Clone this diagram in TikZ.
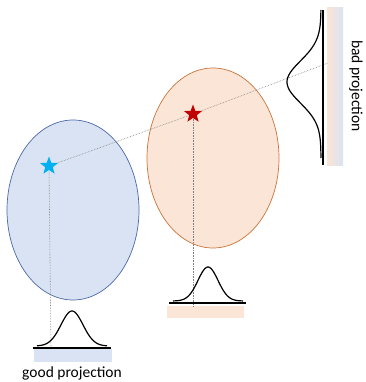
\documentclass[tikz,border=0pt]{standalone}
\usepackage{fontspec}
\setmainfont{Carlito}
\usetikzlibrary{shapes.geometric}
\definecolor{blueface}{HTML}{DAE3F3}
\definecolor{blueedge}{HTML}{4A69A8}
\definecolor{orangeface}{HTML}{FBE5D6}
\definecolor{orangeedge}{HTML}{C9743A}
\definecolor{skystar}{HTML}{00B0F0}
\definecolor{redstar}{HTML}{C00000}
\begin{document}
\begin{tikzpicture}[x=1pt,y=-1pt,
  blob/.style={ellipse,draw,line width=0.7pt,minimum width=132pt,minimum height=180pt,inner sep=0pt},
  pt/.style={star,star points=5,star point ratio=2.4,minimum size=19pt,inner sep=0pt},
  guide/.style={densely dotted,gray,line width=0.6pt},
  axis/.style={black,line width=1.3pt},
  bell/.style={black,line width=1.2pt,smooth,samples=60},
  lbl/.style={font=\fontsize{15.5}{18}\selectfont,inner sep=0pt}]
\useasboundingbox (0,0) rectangle (365,382);
        \node[blob,draw=blueedge,fill=blueface] (left) at (73,210) {};
        \node[blob,draw=orangeedge,fill=orangeface] (right) at (213,158) {};
        % projection bars
        \fill[blueface] (34,349) rectangle (112,362);
        \fill[orangeface] (167,306) rectangle (244,318);
        \shade[left color=orangeface,right color=blueface] (327,8) rectangle (343,165);
        \coordinate (bs) at (49,166);
        \coordinate (rs) at (193,114);
        \coordinate (bfoot) at (51,350);
        \coordinate (rfoot) at (193,307);
        \coordinate (far) at (328,63);
        \begin{scope}[every path/.style={guide}]
        \draw (bs) -- (rs) -- (far);
        \draw (bs) -- (bfoot);
        \draw (rs) -- (rfoot);
        \end{scope}
        \draw[axis] (33,348) -- (111,348);
        \draw[axis] (169,303) -- (246,303);
        \draw[axis] (323,10) -- (323,165);
        \draw[bell] plot[domain=-35:35] ({72+\x},{346-35*exp(-(\x*\x)/(2*11*11))});
        \draw[bell] plot[domain=-35:35] ({208+\x},{301-34*exp(-(\x*\x)/(2*10*10))});
        \draw[bell] plot[domain=-72:76] ({321-34*exp(-(\x*\x)/(2*21*21))},{82+\x});
        \node[pt,fill=skystar] (bstar) at (bs) {};
        \node[pt,fill=redstar] (rstar) at (rs) {};
        \node[lbl] (good) at (72,373) {good projection};
        \node[lbl,rotate=-90] (bad) at (356,86) {bad projection};
\end{tikzpicture}
\end{document}
